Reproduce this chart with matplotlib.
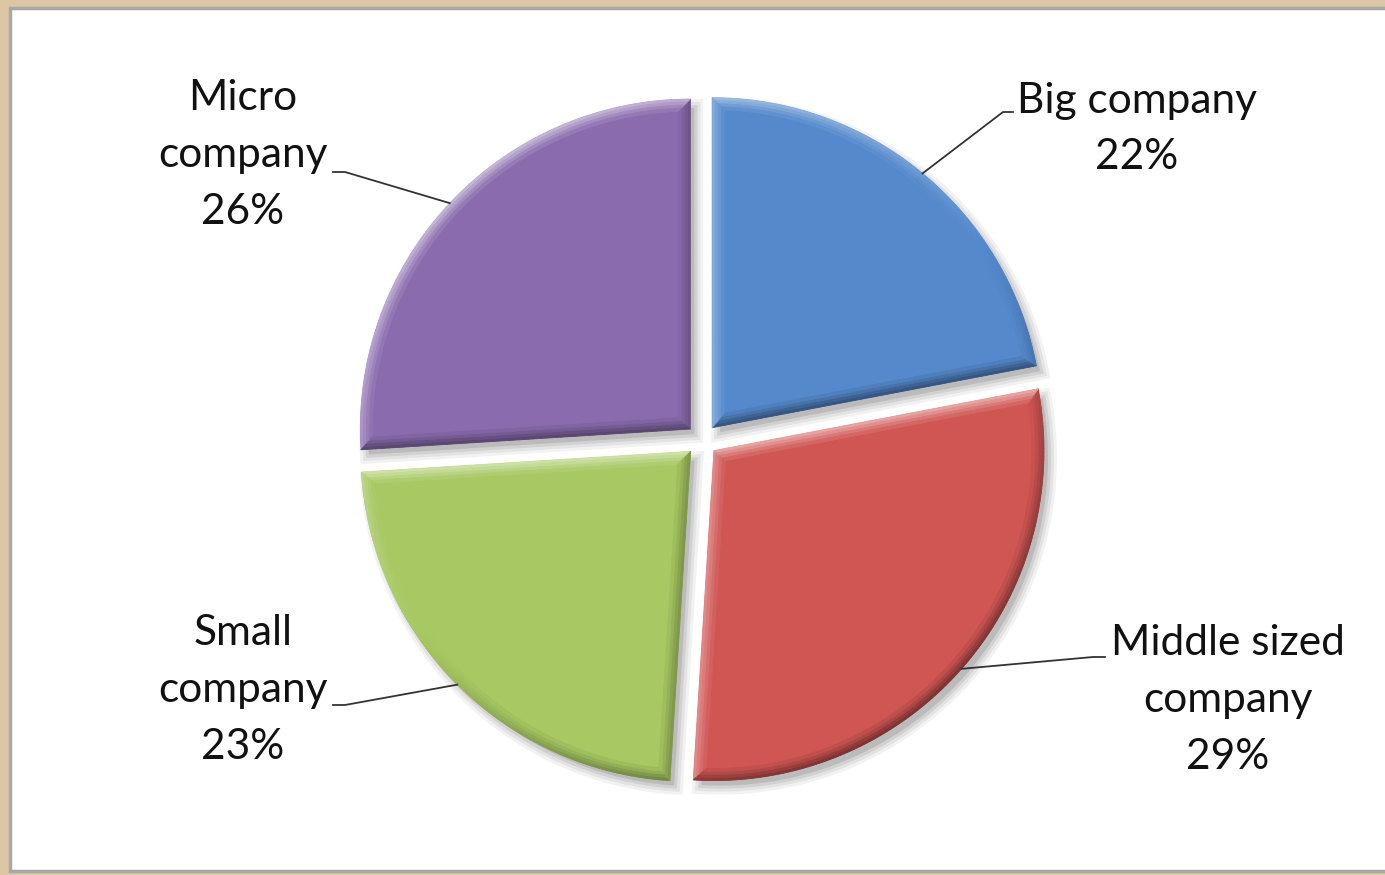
import numpy as np
import matplotlib.pyplot as plt
from matplotlib.patches import Rectangle, Polygon
from matplotlib.collections import PolyCollection
from matplotlib.colors import to_rgb

# company size shares, clockwise from 12 o'clock
labels = ['Big company', 'Middle sized\ncompany', 'Small\ncompany', 'Micro\ncompany']
shares = [22, 29, 23, 26]
colors = ['#5589cc', '#d05654', '#a7c862', '#8a6cae']

W, H = 1385, 875
fig = plt.figure(figsize=(W / 100, H / 100), dpi=100)
fig.patch.set_facecolor('#dcc6a3')
ax = fig.add_axes([0, 0, 1, 1])

# white chart area with thin grey frame
ax.add_patch(Rectangle((10, 4), W, H - 12, facecolor='white',
                       edgecolor='#a8a8a8', lw=2.5, zorder=0))

wedges, _ = ax.pie(shares, startangle=90, counterclock=False, colors=colors,
                   center=(702, H - 440), radius=330, explode=[16] * 4,
                   wedgeprops=dict(linewidth=0), frame=True)
ax.set(xlim=(0, W), ylim=(0, H), aspect='auto')
ax.axis('off')


def contour(w, d, n_ray=24, n_arc=160):
    """Outline of wedge w shrunk inward by d (negative d grows it)."""
    c = np.array(w.center)
    t1, t2 = np.radians(w.theta1), np.radians(w.theta2)
    half = (t2 - t1) / 2
    bis = np.array([np.cos(t1 + half), np.sin(t1 + half)])
    p = c + bis * d / np.sin(half)
    R = w.r - d
    pts = []
    ends = []
    for t in (t1, t2):
        u = np.array([np.cos(t), np.sin(t)])
        q = p - c
        s = -q @ u + np.sqrt((q @ u) ** 2 - q @ q + R ** 2)
        ends.append((u, s))
    (u1, s1), (u2, s2) = ends
    a1 = np.arctan2(*(p + s1 * u1 - c)[::-1])
    a2 = np.arctan2(*(p + s2 * u2 - c)[::-1])
    if a2 < a1:
        a2 += 2 * np.pi
    for s in np.linspace(0, s1, n_ray, endpoint=False):
        pts.append(p + s * u1)
    for a in np.linspace(a1, a2, n_arc, endpoint=False):
        pts.append(c + R * np.array([np.cos(a), np.sin(a)]))
    for s in np.linspace(s2, 0, n_ray):
        pts.append(p + s * u2)
    return np.array(pts)


light = np.array([-0.55, 0.83])
light /= np.linalg.norm(light)

for w, col in zip(wedges, colors):
    base = np.array(to_rgb(col))
    # soft drop shadow towards the lower right
    for d, a in [(-7, 0.05), (-4, 0.06), (-1, 0.08), (2, 0.10)]:
        sh = contour(w, d) + np.array([6, -7])
        ax.add_patch(Polygon(sh, closed=True, facecolor='black', alpha=a,
                             lw=0, zorder=0.5))
    w.set_zorder(1)

    # rounded bevel along the rim
    depths = [0, 3, 6, 9, 12]
    strength = [1.0, 0.75, 0.45, 0.2]
    for (d0, d1), k in zip(zip(depths[:-1], depths[1:]), strength):
        outer = contour(w, d0)
        inner = contour(w, d1)
        quads, cols = [], []
        for i in range(len(outer) - 1):
            seg = outer[i + 1] - outer[i]
            ln = np.hypot(*seg)
            if ln < 1e-9:
                continue
            nrm = np.array([seg[1], -seg[0]]) / ln
            sh = (nrm @ light) * k
            if sh > 0:
                c = base + (1 - base) * sh * 0.5
            else:
                c = base * (1 + sh * 0.4)
            quads.append([outer[i], outer[i + 1], inner[i + 1], inner[i]])
            cols.append(c)
        ax.add_collection(PolyCollection(quads, facecolors=cols,
                                         edgecolors=cols, lw=0.6, zorder=2))

# labels with leader lines starting at each slice's mid-arc
text_xy = [(1137, 129), (1228, 700), (243, 690), (243, 155)]
elbows = [[(1003, 112), (1013, 112)], [(1093, 657), (1105, 657)],
          [(345, 705), (333, 705)], [(345, 172), (333, 172)]]
pcts = [f'{v}%' for v in shares]

for w, lab, pct, (tx, ty), elb in zip(wedges, labels, pcts, text_xy, elbows):
    tm = np.radians((w.theta1 + w.theta2) / 2)
    start = (w.center[0] + w.r * np.cos(tm), w.center[1] + w.r * np.sin(tm))
    xs = [start[0]] + [e[0] for e in elb]
    ys = [start[1]] + [H - e[1] for e in elb]
    ax.plot(xs, ys, color='#333333', lw=1.3, zorder=3)
    ax.text(tx, H - ty, f'{lab}\n{pct}', ha='center', va='center',
            multialignment='center', fontsize=30.5, family='Lato',
            color='#111111', linespacing=1.6, zorder=4)

fig.savefig('out.png', dpi=100, facecolor=fig.get_facecolor())
